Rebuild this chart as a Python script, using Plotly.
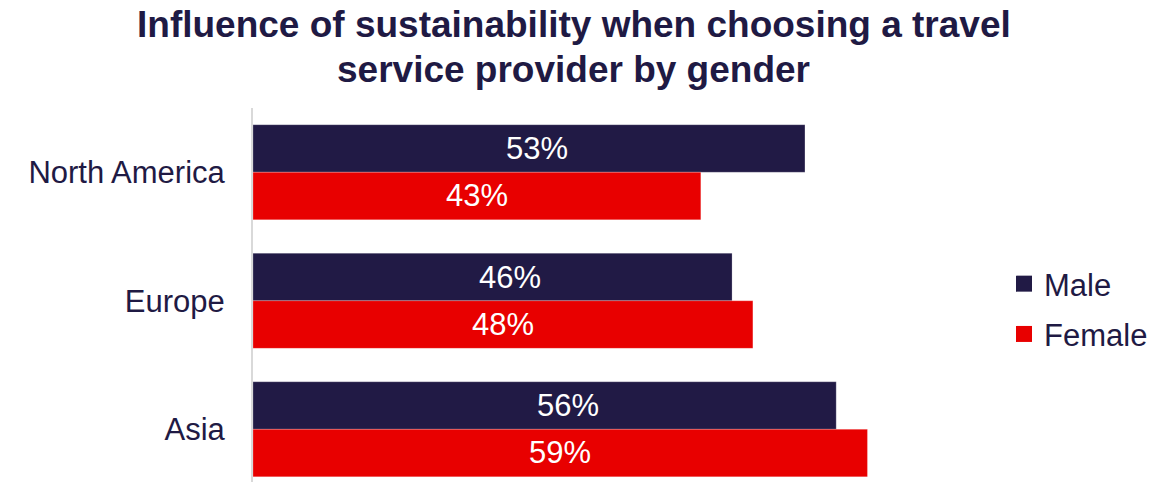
import plotly.graph_objects as go

# Data
regions = ["North America", "Europe", "Asia"]
male = [53, 46, 56]
female = [43, 48, 59]
series_names = ["Male", "Female"]

# Styling
NAVY = "#211A45"
RED = "#E80000"
TEXT = "#1F1A44"
FONT = "Liberation Sans, Arial, sans-serif"

# Horizontal pixel nudges for the Male value labels
male_label_shift = [8, 17, 23]

fig = go.Figure()

fig.add_trace(go.Bar(
    y=regions, x=male, orientation="h", name=series_names[0],
    marker=dict(color=NAVY, line=dict(color="rgba(255,255,255,0.22)", width=1)),
    showlegend=False, hoverinfo="skip",
))
fig.add_trace(go.Bar(
    y=regions, x=female, orientation="h", name=series_names[1],
    marker=dict(color=RED, line=dict(color="rgba(255,255,255,0.22)", width=1)),
    showlegend=False, hoverinfo="skip",
))

# Legend entries with larger square swatches
for name, col, grp in [(series_names[0], NAVY, "m"), (series_names[1], RED, "f")]:
    fig.add_trace(go.Scatter(
        x=[None], y=[None], mode="markers", name=name, legendgroup=grp,
        marker=dict(symbol="square", size=17, color=col),
    ))

annotations = []
# Value labels inside the bars
for i, (r, v) in enumerate(zip(regions, male)):
    annotations.append(dict(
        x=v / 2, y=r, xref="x", yref="y", text=f"{v}%", showarrow=False,
        xshift=male_label_shift[i], yshift=23.5,
        font=dict(family=FONT, size=31, color="white"),
    ))
for r, v in zip(regions, female):
    annotations.append(dict(
        x=v / 2, y=r, xref="x", yref="y", text=f"{v}%", showarrow=False,
        yshift=-23.5,
        font=dict(family=FONT, size=31, color="white"),
    ))

# Two-line title
title_lines = ["Influence of sustainability when choosing a travel",
               "service provider by gender"]
L, T, H, W = 253, 108, 374, 729
for line, ymid in zip(title_lines, [24.5, 69.5]):
    annotations.append(dict(
        x=(573.5 - L) / W, y=(482 - ymid) / H, xref="paper", yref="paper",
        xanchor="center", yanchor="middle", text=f"<b>{line}</b>", showarrow=False,
        font=dict(family=FONT, size=37, color=TEXT),
    ))

fig.update_layout(
    width=1175, height=482,
    margin=dict(l=L, r=1175 - L - W, t=T, b=0, pad=0),
    paper_bgcolor="white", plot_bgcolor="white",
    barmode="group", bargap=0.26, bargroupgap=0,
    font=dict(family=FONT, size=31, color=TEXT),
    showlegend=True,
    legend=dict(
        x=(1004 - L) / W, y=(482 - 309) / H, xanchor="left", yanchor="middle",
        xref="paper", yref="paper",
        font=dict(family=FONT, size=31, color=TEXT),
        bgcolor="rgba(0,0,0,0)", borderwidth=0,
        traceorder="grouped", tracegroupgap=7, itemclick=False,
    ),
    annotations=annotations,
    xaxis=dict(range=[0, 70], visible=False, showgrid=False, zeroline=False),
    yaxis=dict(
        range=[2.41, -0.5], type="category",
        showline=True, linecolor="#D9D9D9", linewidth=2,
        showgrid=False, zeroline=False, ticks="",
        ticklabelstandoff=20,
        tickfont=dict(family=FONT, size=31, color=TEXT),
    ),
)

fig.write_html("out.html")
